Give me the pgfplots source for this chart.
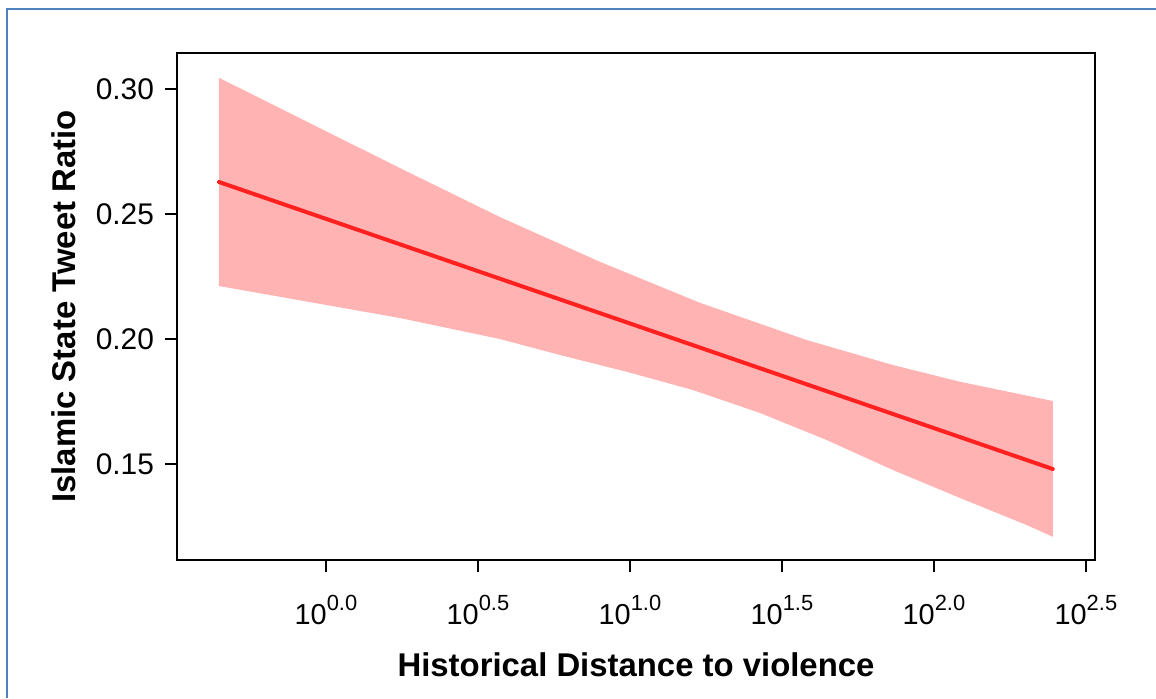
\documentclass[border=0pt]{standalone}
\usepackage{fontspec}
\setmainfont{Liberation Sans}
\usepackage{pgfplots}
\pgfplotsset{compat=1.18}
\definecolor{bandfill}{RGB}{255,179,179}
\definecolor{fitline}{RGB}{255,32,32}
\definecolor{frameblue}{RGB}{79,129,189}
\newcommand{\tp}[1]{10\raisebox{7bp}{\fontsize{11}{13}\selectfont #1}}
\begin{document}
\begin{tikzpicture}[x=1bp,y=1bp]
\useasboundingbox (0,0) rectangle (578,349);
\draw[frameblue,line width=1.2bp] (3.5,0) -- (3.5,344.5) -- (580,344.5);
\begin{axis}[
  at={(88.5bp,69bp)}, anchor=south west,
  scale only axis, width=459bp, height=253.5bp,
  xmin=-0.49, xmax=2.53, ymin=0.1116, ymax=0.3144,
  axis line style={line width=1.2bp},
  every tick/.style={black,line width=1bp},
  tick align=outside, major tick length=6bp,
  xtick={0,0.5,1,1.5,2,2.5},
  xticklabels={\tp{0.0},\tp{0.5},\tp{1.0},\tp{1.5},\tp{2.0},\tp{2.5}},
  ytick={0.15,0.20,0.25,0.30},
  xtick pos=bottom, ytick pos=left,
  /pgf/number format/assume math mode=true,
  yticklabel style={/pgf/number format/fixed,/pgf/number format/fixed zerofill,/pgf/number format/precision=2,font=\fontsize{15}{18}\selectfont, xshift=-2bp},
  xticklabel style={font=\fontsize{14.5}{17}\selectfont, yshift=-8bp},
  scaled y ticks=false,
  xlabel={\textbf{Historical Distance to violence}},
  ylabel={\textbf{Islamic State Tweet Ratio}},
  xlabel style={font=\fontsize{16.5}{20}\selectfont, yshift=-7bp},
  ylabel style={font=\fontsize{16.5}{20}\selectfont, yshift=3bp},
]
\addplot[fill=bandfill, draw=none] coordinates {
 (-0.352,0.3045) (0.243,0.2684) (0.572,0.2488) (0.901,0.2309) (1.230,0.2145)
 (1.581,0.1996) (1.865,0.1896) (2.086,0.1829) (2.391,0.1752)
 (2.391,0.1209) (2.305,0.1256) (2.086,0.1364) (1.865,0.1476) (1.647,0.1596)
 (1.428,0.1704) (1.207,0.1796) (0.989,0.1869) (0.770,0.1936) (0.572,0.2000)
 (0.243,0.2084) (-0.352,0.2212)
} -- cycle;
\addplot[fitline, line width=2bp, line cap=round] coordinates {
 (-0.352,0.2628) (2.391,0.1480)
};
\end{axis}
\end{tikzpicture}
\end{document}
